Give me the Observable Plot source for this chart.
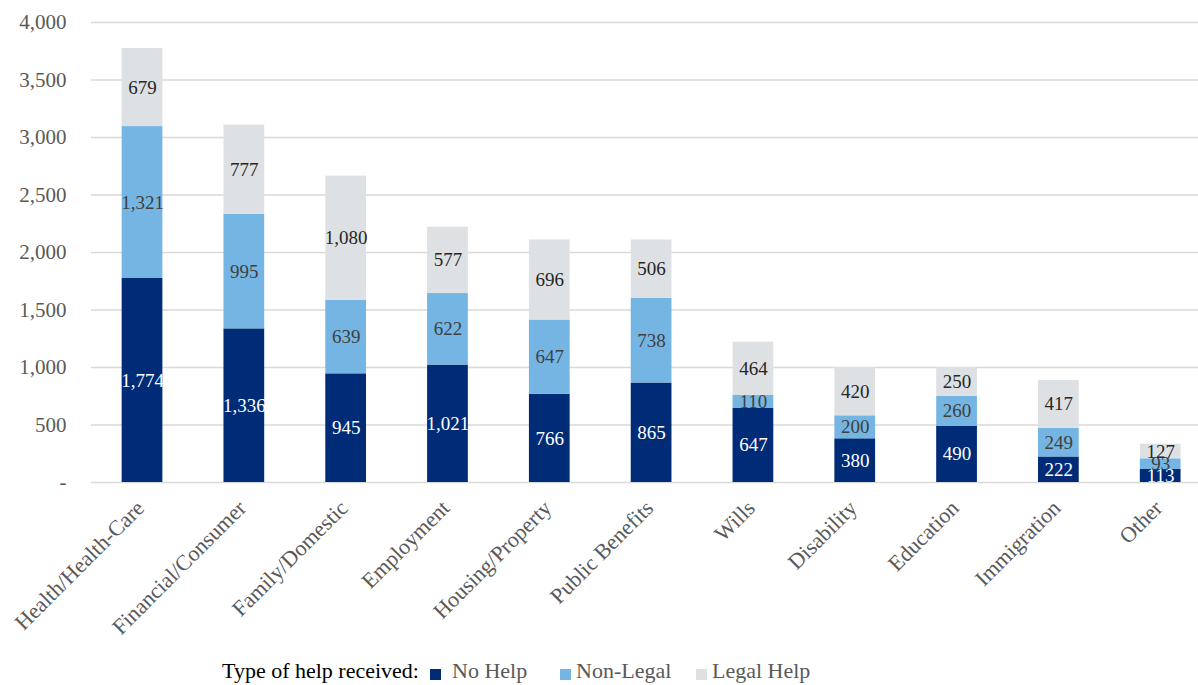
<!DOCTYPE html>
<html>
<head>
<meta charset="utf-8">
<script src="https://cdn.jsdelivr.net/npm/d3@7"></script>
<script src="https://cdn.jsdelivr.net/npm/@observablehq/plot@0.6"></script>
<style>
  body { margin: 0; background: #fff; font-family: "Liberation Serif", serif; }
  #chart svg, svg.legend { display: block; }
  svg.legend text { font-family: "Liberation Serif", serif; font-size: 22px; }
</style>
</head>
<body>
<div id="chart"></div>
<script>
const categories = ["Health/Health-Care", "Financial/Consumer", "Family/Domestic", "Employment", "Housing/Property", "Public Benefits", "Wills", "Disability", "Education", "Immigration", "Other"];
const types = ["No Help", "Non-Legal", "Legal Help"];
const noHelp    = [1774, 1336, 945, 1021, 766, 865, 647, 380, 490, 222, 113];
const nonLegal  = [1321, 995, 639, 622, 647, 738, 110, 200, 260, 249, 93];
const legalHelp = [679, 777, 1080, 577, 696, 506, 464, 420, 250, 417, 127];
const yTicks = [0, 500, 1000, 1500, 2000, 2500, 3000, 3500, 4000];
const colors = ["#002c77", "#75b5e3", "#dee1e4"];
const labelColors = ["#ffffff", "#404040", "#262626"];

const series = [noHelp, nonLegal, legalHelp];
const data = [];
categories.forEach((c, i) => types.forEach((t, j) => data.push({cat: c, type: t, value: series[j][i]})));

const fmt = d3.format(",");
const font = "'Liberation Serif', serif";

const textMarks = types.map((t, j) => Plot.text(data, Plot.stackY({
  x: "cat", y: "value", z: "type", order: types,
  text: d => d.type === t ? fmt(d.value) : null,
  fill: labelColors[j], fontSize: 19, fontFamily: font
})));

const chart = Plot.plot({
  width: 1198,
  height: 650,
  marginTop: 22,
  marginBottom: 168,
  marginLeft: 91,
  marginRight: 0,
  style: {fontFamily: font, background: "#fff"},
  x: {domain: categories, range: [91.1, 1211.1], paddingInner: 0.6, paddingOuter: 0.3, round: false, label: null},
  y: {domain: [0, 4000], label: null},
  color: {domain: types, range: colors},
  marks: [
    Plot.ruleY(yTicks, {stroke: "#d9d9d9", strokeWidth: 1.5}),
    Plot.barY(data, {x: "cat", y: "value", fill: "type", z: "type", order: types}),
    ...textMarks,
    Plot.axisY(yTicks, {tickSize: 0, tickPadding: 25, fontSize: 21, fill: "#595959", tickFormat: d => d === 0 ? "-" : fmt(d), label: null}),
    Plot.axisX({tickSize: 0, tickPadding: 22, dx: -2, tickRotate: -45, fontSize: 22, fill: "#595959", label: null})
  ]
});
const holder = document.getElementById("chart");
holder.appendChild(chart);

// legend (below the chart)
const lg = d3.select(holder).append("svg")
  .attr("class", "legend")
  .attr("width", 1198).attr("height", 35);
lg.append("text").attr("x", 222).attr("y", 28).attr("fill", "#000")
  .attr("font-family", font).attr("font-size", 22).text("Type of help received:");
const itemX = [430, 560, 696];
const textX = [452, 576, 712];
types.forEach((t, j) => {
  lg.append("rect").attr("x", itemX[j]).attr("y", 19).attr("width", 11).attr("height", 11).attr("fill", colors[j]);
  lg.append("text").attr("x", textX[j]).attr("y", 28).attr("fill", "#595959")
    .attr("font-family", font).attr("font-size", 22).text(t);
});
</script>
</body>
</html>
